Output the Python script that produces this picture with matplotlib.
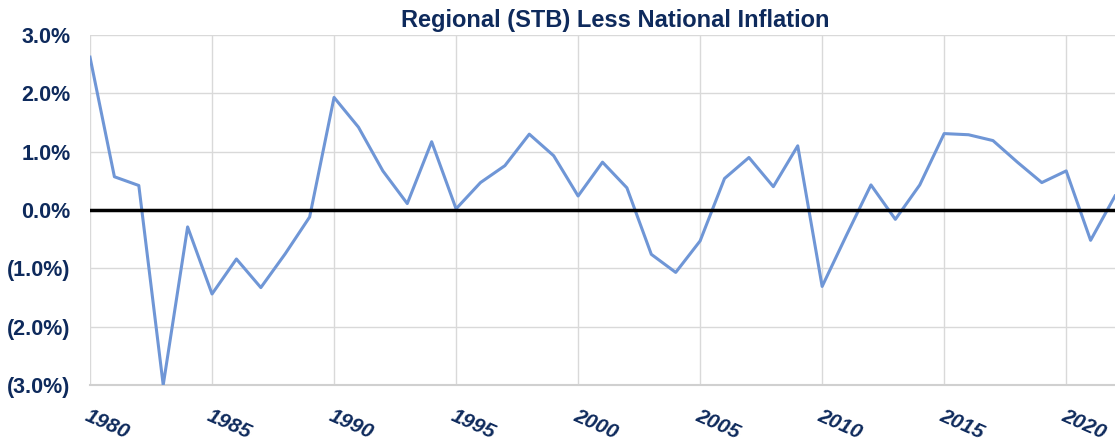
import matplotlib.pyplot as plt
from matplotlib.ticker import FuncFormatter

years = list(range(1980, 2023))
diff = [2.62, 0.57, 0.42, -3.00, -0.29, -1.44, -0.84, -1.33, -0.75, -0.12,
        1.93, 1.42, 0.67, 0.11, 1.17, 0.02, 0.47, 0.76, 1.30, 0.93,
        0.24, 0.82, 0.38, -0.76, -1.07, -0.53, 0.54, 0.90, 0.40, 1.10,
        -1.31, -0.43, 0.43, -0.16, 0.43, 1.31, 1.29, 1.19, 0.82, 0.47,
        0.67, -0.52, 0.24]
xticks = list(range(1980, 2021, 5))
yticks = [-3, -2, -1, 0, 1, 2, 3]

navy = '#0E2A5C'
plt.rcParams['font.family'] = ['Liberation Sans', 'DejaVu Sans']

fig = plt.figure(figsize=(11.15, 4.41), dpi=100)
ax = fig.add_axes([90/1115, 56/441, 1025/1115, 350/441])

ax.plot(years, diff, color='#6F96D6', lw=2.2, zorder=3)
ax.axhline(0, color='black', lw=2.5, zorder=4)

ax.set_xlim(1980, 2022)
ax.set_ylim(-3, 3)
ax.set_xticks(xticks)
ax.set_yticks(yticks)

def pct(v, pos):
    if v < 0:
        return '({:.1f}%)'.format(-v)
    return '{:.1f}%'.format(v)

ax.yaxis.set_major_formatter(FuncFormatter(pct))
ax.grid(True, color='#D9D9D9', lw=1)
ax.set_axisbelow(True)
for s in ['top', 'right', 'left']:
    ax.spines[s].set_visible(False)
ax.spines['bottom'].set_color('#D0D0D0')
ax.spines['bottom'].set_linewidth(1.5)
ax.tick_params(length=0)

for lbl in ax.get_yticklabels():
    lbl.set_fontsize(15.5)
    lbl.set_fontweight('bold')
    lbl.set_color(navy)
ax.tick_params(axis='y', pad=14)

ax.set_xticklabels([str(y) for y in xticks], rotation=-24, ha='left',
                   rotation_mode='anchor', fontsize=15, fontweight='bold',
                   style='italic', color=navy)
ax.tick_params(axis='x', pad=15)

ax.set_title('Regional (STB) Less National Inflation', fontsize=17,
             fontweight='bold', color=navy, pad=6, x=0.512)

fig.savefig('out.png', dpi=100)
